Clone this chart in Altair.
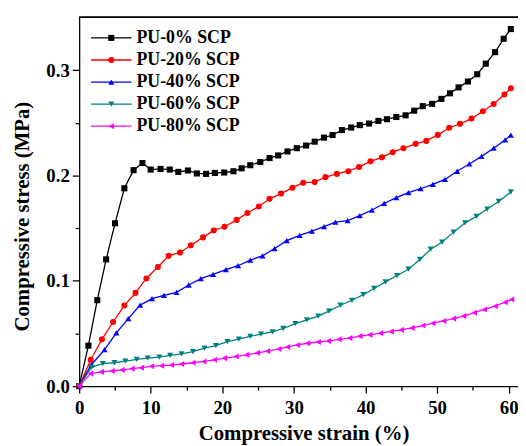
import altair as alt
import pandas as pd

# ---------------- data ----------------
series = ["PU-0% SCP", "PU-20% SCP", "PU-40% SCP", "PU-60% SCP", "PU-80% SCP"]
colors = ["#000000", "#FF0000", "#0000FF", "#008080", "#FF00FF"]
shapes = ["square", "circle", "triangle-up", "triangle-down", "triangle-left"]

strain_0 = [0, 1.29, 2.53, 3.77, 5.01, 6.31, 7.6, 8.84, 9.99, 11.37,
            12.66, 13.85, 15.19, 16.44, 17.72, 18.96, 20.26, 21.55, 22.7,
            23.9, 25.3, 26.6, 27.8, 29.1, 30.4, 31.7, 32.9, 34.2, 35.4,
            36.7, 38.0, 39.2, 40.5, 41.8, 43.0, 44.3, 45.6, 46.8, 48.0,
            49.3, 50.6, 51.8, 53.0, 54.3, 55.6, 56.8, 58.1, 59.3, 60.3]
stress_0 = [0, 0.0384, 0.0816, 0.1203, 0.1546, 0.1878, 0.2050, 0.2118, 0.2056, 0.2062,
            0.2056, 0.2034, 0.2047, 0.2019, 0.2015, 0.2024, 0.2028, 0.2040, 0.2068,
            0.2097, 0.2128, 0.2165, 0.2190, 0.2228, 0.2259, 0.2284, 0.2321, 0.2359, 0.2384,
            0.2431, 0.2455, 0.2478, 0.2493, 0.2518, 0.2534, 0.2555, 0.2571, 0.2615, 0.2658,
            0.2680, 0.2727, 0.2780, 0.2836, 0.2892, 0.2961, 0.3061, 0.3171, 0.3298, 0.3390]

strain_20 = [0, 1.61, 3.18, 4.74, 6.31, 7.87, 9.39, 11.0, 12.5, 14.1, 15.6, 17.3,
             18.8, 20.3, 22.0, 23.5, 25.1, 26.6, 28.2, 29.8, 31.3, 32.9, 34.4, 36.0,
             37.6, 39.1, 40.7, 42.3, 43.8, 45.3, 47.0, 48.5, 50.1, 51.7, 53.2, 54.8,
             56.4, 57.9, 59.4, 60.3]
stress_20 = [0, 0.0250, 0.0444, 0.0609, 0.0766, 0.0885, 0.1022, 0.1131, 0.1237, 0.1269,
             0.1337, 0.1412, 0.1478, 0.1513, 0.1578, 0.1644, 0.1706, 0.1778, 0.1828, 0.1884,
             0.1931, 0.1937, 0.1984, 0.2015, 0.2040, 0.2081, 0.2134, 0.2172, 0.2221, 0.2259,
             0.2300, 0.2328, 0.2385, 0.2453, 0.2490, 0.2540, 0.2610, 0.2678, 0.2769, 0.2828]

strain_40 = [0, 1.7, 3.55, 5.2, 6.86, 8.52, 10.18, 11.84, 13.6, 15.3, 17.0, 18.7,
             20.5, 22.2, 23.9, 25.6, 27.3, 29.0, 30.8, 32.5, 34.2, 35.8, 37.5, 39.2,
             40.9, 42.6, 44.3, 46.0, 47.7, 49.4, 51.1, 52.8, 54.5, 56.2, 57.9, 59.5, 60.3]
stress_40 = [0, 0.0203, 0.0347, 0.0506, 0.0641, 0.0769, 0.0831, 0.0862, 0.0890, 0.0960,
             0.1020, 0.1061, 0.1106, 0.1143, 0.1197, 0.1237, 0.1306, 0.1381, 0.1431, 0.1471,
             0.1515, 0.1556, 0.1572, 0.1619, 0.1672, 0.1734, 0.1790, 0.1837, 0.1874, 0.1916,
             0.1962, 0.2040, 0.2109, 0.2181, 0.2259, 0.2337, 0.2384]

strain_60 = [0, 1.75, 3.31, 4.93, 6.45, 8.05, 9.57, 11.2, 12.7, 14.3, 15.9, 17.5,
             19.1, 20.7, 22.3, 23.9, 25.4, 27.0, 28.5, 30.2, 31.8, 33.4, 34.9, 36.5,
             38.1, 39.7, 41.2, 42.8, 44.4, 46.0, 47.6, 49.1, 50.7, 52.3, 53.9, 55.5,
             57.0, 58.6, 60.3]
stress_60 = [0, 0.0180, 0.0213, 0.0222, 0.0238, 0.0253, 0.0266, 0.0276, 0.0291, 0.0306,
             0.0328, 0.0360, 0.0384, 0.0422, 0.0447, 0.0472, 0.0494, 0.0515, 0.0547, 0.0594,
             0.0628, 0.0665, 0.0712, 0.0768, 0.0815, 0.0869, 0.0927, 0.0990, 0.1050, 0.1110,
             0.1203, 0.1300, 0.1368, 0.1462, 0.1550, 0.1612, 0.1681, 0.1753, 0.1843]

strain_80 = [0, 1.6, 3.1, 4.6, 6.0, 7.4, 8.7, 10.1, 11.5, 12.9, 14.3, 15.9, 17.4,
             18.9, 20.3, 21.9, 23.4, 24.9, 26.3, 27.9, 29.1, 30.5, 31.9, 33.4, 34.8,
             36.3, 37.8, 39.2, 40.6, 42.1, 43.6, 45.0, 46.5, 48.0, 49.4, 50.9, 52.3,
             53.7, 55.2, 56.6, 58.1, 59.5, 60.4]
stress_80 = [0, 0.0119, 0.0135, 0.0144, 0.0153, 0.0166, 0.0175, 0.0188, 0.0194, 0.0200,
             0.0210, 0.0222, 0.0234, 0.0250, 0.0266, 0.0281, 0.0297, 0.0316, 0.0332, 0.0353,
             0.0372, 0.0391, 0.0407, 0.0419, 0.0428, 0.0444, 0.0456, 0.0475, 0.0487, 0.0503,
             0.0519, 0.0534, 0.0553, 0.0575, 0.0597, 0.0619, 0.0641, 0.0665, 0.0697, 0.0728,
             0.0759, 0.0797, 0.0822]

x_ticks = [0, 5, 10, 15, 20, 25, 30, 35, 40, 45, 50, 55, 60]
y_ticks = [0.0, 0.05, 0.1, 0.15, 0.2, 0.25, 0.3]

strains = [strain_0, strain_20, strain_40, strain_60, strain_80]
stresses = [stress_0, stress_20, stress_40, stress_60, stress_80]

rows = []
for name, xs, ys in zip(series, strains, stresses):
    for xv, yv in zip(xs, ys):
        rows.append({"series": name, "strain": xv, "stress": yv})
df = pd.DataFrame(rows)
leg_df = pd.DataFrame({"series": series})

# ---------------- styling ----------------
W, H = 444, 373
XMAX, YMAX = 61.3, 0.35
FONT = "Liberation Serif"
MSIZE = 38

xscale = alt.Scale(domain=[0, XMAX], nice=False, zero=False)
yscale = alt.Scale(domain=[0, YMAX], nice=False)
color_scale = alt.Scale(domain=series, range=colors)
shape_scale = alt.Scale(domain=series, range=shapes)

ymajor = "abs(datum.value*10 - round(datum.value*10)) < 0.001"

common_axis = dict(
    grid=False, labelOverlap=False,
    domainColor="black", domainWidth=1.3, tickColor="black", tickWidth=1.3,
    labelFont=FONT, labelFontSize=19, labelFontWeight="bold", labelColor="black",
    titleFont=FONT, titleFontSize=21, titleFontWeight="bold", titleColor="black",
    titleAlign="center", titleBaseline="alphabetic",
)

xaxis = alt.Axis(
    values=x_ticks, title="Compressive strain (%)",
    labelExpr="datum.value % 10 == 0 ? datum.label : ''",
    tickSize={"condition": {"test": "datum.value % 10 != 0", "value": 4}, "value": 7},
    labelFlush=False, labelPadding=6, titleX=227, titleY=54, **common_axis,
)
yaxis = alt.Axis(
    values=y_ticks, title="Compressive stress (MPa)",
    labelExpr=ymajor + " ? format(datum.value, '.1f') : ''",
    tickSize={"condition": {"test": "!(" + ymajor + ")", "value": 4}, "value": 7},
    labelPadding=3, titleX=-51, titleY=201, titleAngle=270, **common_axis,
)

base = alt.Chart(df)
lines = base.mark_line(strokeWidth=1.3).encode(
    x=alt.X("strain:Q", scale=xscale, axis=xaxis),
    y=alt.Y("stress:Q", scale=yscale, axis=yaxis),
    color=alt.Color("series:N", scale=color_scale, legend=None),
    order=alt.Order("strain:Q"),
)
points = base.mark_point(filled=True, size=MSIZE, opacity=1).encode(
    x=alt.X("strain:Q", scale=xscale, axis=xaxis),
    y=alt.Y("stress:Q", scale=yscale, axis=yaxis),
    color=alt.Color("series:N", scale=color_scale, legend=None),
    shape=alt.Shape("series:N", scale=shape_scale, legend=None),
)
data_layer = alt.layer(lines, points)

frame = alt.Chart(leg_df).mark_rule(color="black", strokeWidth=1.3).encode(
    x=alt.value(0), x2=alt.value(W), y=alt.value(0)
)

leg_y = alt.Y("series:N", scale=alt.Scale(type="point", domain=series, range=[20.7, 110], padding=0), axis=None)
leg_lines = alt.Chart(leg_df).mark_rule(strokeWidth=1.3).encode(
    x=alt.value(12), x2=alt.value(53), y=leg_y,
    color=alt.Color("series:N", scale=color_scale, legend=None),
)
leg_points = alt.Chart(leg_df).mark_point(filled=True, size=MSIZE, opacity=1).encode(
    x=alt.value(32.5), y=leg_y,
    color=alt.Color("series:N", scale=color_scale, legend=None),
    shape=alt.Shape("series:N", scale=shape_scale, legend=None),
)
leg_text = alt.Chart(leg_df).mark_text(
    align="left", baseline="middle", font=FONT, fontSize=18, fontWeight="bold", color="black"
).encode(x=alt.value(58), y=leg_y, text="series:N")
legend_layer = alt.layer(leg_lines, leg_points, leg_text)

chart = (
    alt.layer(data_layer, frame, legend_layer)
    .resolve_scale(y="independent")
    .properties(
        width=W, height=H,
        padding={"left": 72, "top": 7, "right": 0, "bottom": 58},
        autosize=alt.AutoSizeParams(type="none"),
        background="white",
    )
    .configure_view(stroke=None)
)

chart.save("out.html", embed_options={"renderer": "svg", "actions": False})
